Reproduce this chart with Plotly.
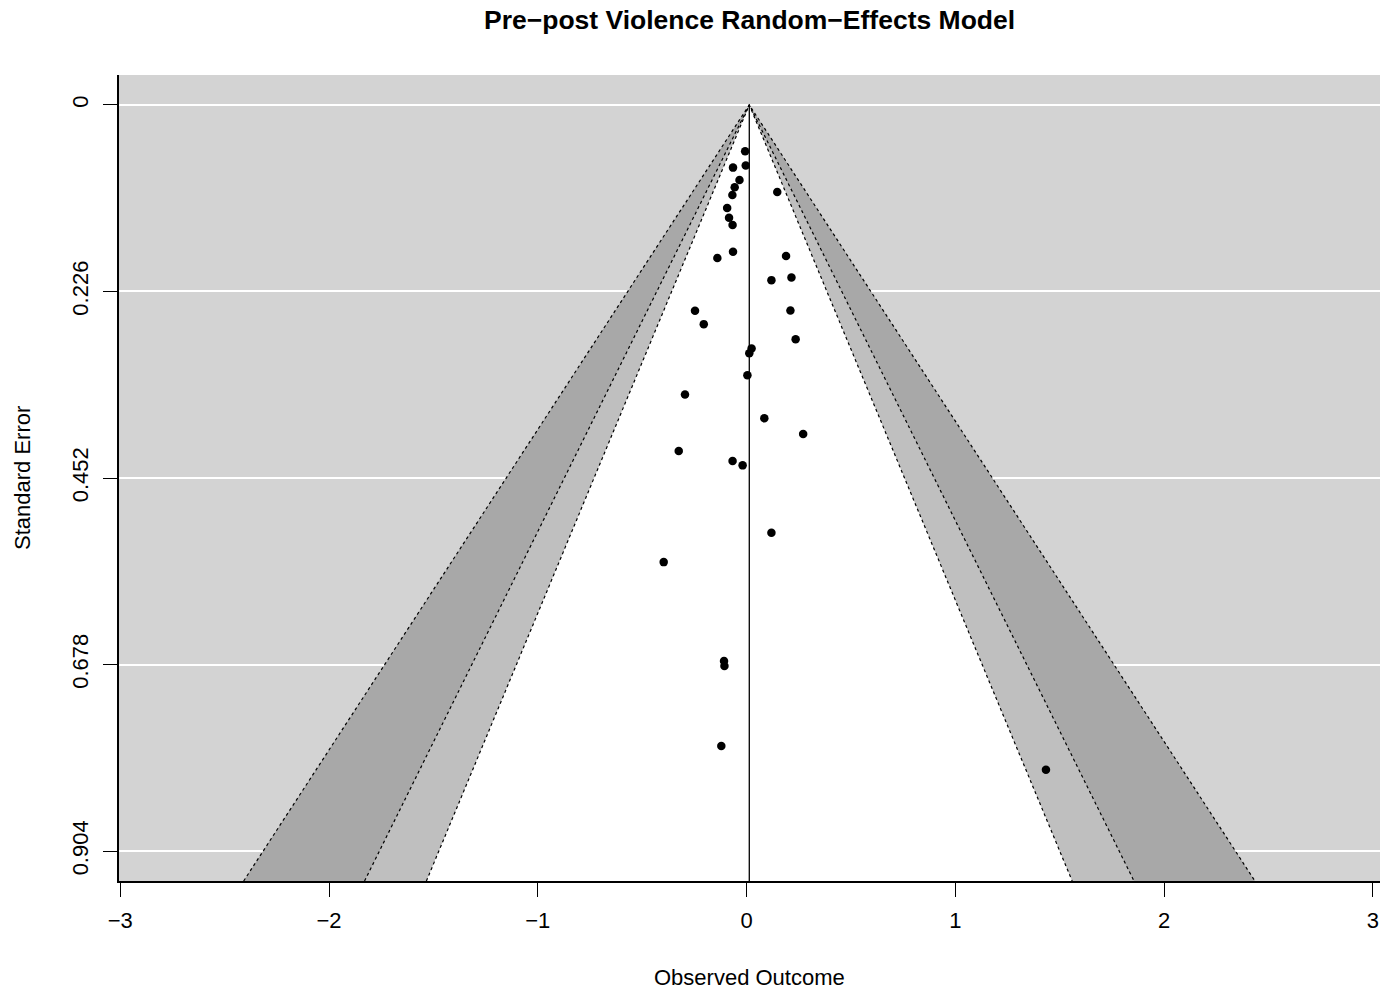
import numpy as np
import plotly.graph_objects as go

# Study estimates (observed outcome) and their standard errors
observed = [-0.007, -0.004, -0.065, -0.034, -0.057, -0.068, 0.147, -0.093, -0.084,
            -0.067, -0.065, -0.140, 0.189, 0.215, 0.119, -0.247, 0.210, -0.205,
            0.235, 0.024, 0.013, 0.004, -0.295, 0.085, 0.271, -0.325, -0.067,
            -0.019, 0.119, -0.397, -0.108, -0.106, -0.121, 1.434]
std_error = [0.0562, 0.0735, 0.0760, 0.0910, 0.0998, 0.1092, 0.1055, 0.1249, 0.1366,
             0.1456, 0.1778, 0.1856, 0.1832, 0.2090, 0.2123, 0.2494, 0.2490, 0.2656,
             0.2838, 0.2951, 0.3008, 0.3275, 0.3509, 0.3797, 0.3986, 0.4192, 0.4313,
             0.4367, 0.5183, 0.5539, 0.6736, 0.6797, 0.7767, 0.8054]

# Pooled random-effects estimate (funnel centre)
ref_estimate = 0.013

# Significance contours (two-sided z critical values for p = .10, .05, .01)
contour_z = [2.576, 1.96, 1.645]
contour_fill = ["#A8A8A8", "#BFBFBF", "#FFFFFF"]

# Axis settings
se_ticks = [0, 0.226, 0.452, 0.678, 0.904]
se_tick_labels = ["0", "0.226", "0.452", "0.678", "0.904"]
x_ticks = [-3, -2, -1, 0, 1, 2, 3]
x_range = [-3.006, 3.034]
y_range = [0.9402, -0.0362]

title_text = "Pre\u2212post Violence Random\u2212Effects Model"
x_title = "Observed Outcome"
y_title = "Standard Error"

font_family = "Liberation Sans, Arial, Helvetica, sans-serif"
se_bottom = y_range[0]

fig = go.Figure()

# Filled contour regions, widest first
for z, col in zip(contour_z, contour_fill):
    half = z * se_bottom
    fig.add_trace(go.Scatter(
        x=[ref_estimate - half, ref_estimate, ref_estimate + half, ref_estimate - half],
        y=[se_bottom, 0, se_bottom, se_bottom],
        mode="lines", fill="toself", fillcolor=col,
        line=dict(width=0), hoverinfo="skip", showlegend=False))

# Dotted contour borders
for z in contour_z:
    half = z * se_bottom
    fig.add_trace(go.Scatter(
        x=[ref_estimate - half, ref_estimate, ref_estimate + half],
        y=[se_bottom, 0, se_bottom],
        mode="lines", line=dict(color="black", width=1.2, dash="dot"),
        hoverinfo="skip", showlegend=False))

# Vertical reference line
fig.add_trace(go.Scatter(
    x=[ref_estimate, ref_estimate], y=[0, se_bottom],
    mode="lines", line=dict(color="black", width=1.3),
    hoverinfo="skip", showlegend=False))

# Study points
fig.add_trace(go.Scatter(
    x=observed, y=std_error, mode="markers",
    marker=dict(color="black", size=8.5, line=dict(width=0)),
    showlegend=False))

fig.update_layout(
    width=1386, height=992, autosize=False,
    margin=dict(l=119, r=6, t=75, b=111),
    paper_bgcolor="white", plot_bgcolor="#D3D3D3",
    font=dict(family=font_family, size=22, color="black"),
    showlegend=False,
)

fig.update_xaxes(
    range=x_range, tickmode="array", tickvals=x_ticks,
    showgrid=False, zeroline=False,
    showline=True, linecolor="black", linewidth=1.5,
    ticks="outside", ticklen=14, tickwidth=1.3, tickcolor="black",
    ticklabelstandoff=5,
    tickfont=dict(size=22),
)
fig.update_yaxes(
    range=y_range, tickmode="array", tickvals=se_ticks, ticktext=se_tick_labels,
    showgrid=True, gridcolor="white", gridwidth=1.5, zeroline=False,
    showline=True, linecolor="black", linewidth=1.5,
    ticks="outside", ticklen=14, tickwidth=1.3, tickcolor="black",
    tickangle=-90, ticklabelstandoff=6,
    tickfont=dict(size=22),
)

fig.add_annotation(text="<b>" + title_text + "</b>", xref="paper", yref="paper",
                   x=0.5, y=1, yshift=55, showarrow=False,
                   xanchor="center", yanchor="middle", font=dict(size=26.5))
fig.add_annotation(text=x_title, xref="paper", yref="paper",
                   x=0.5, y=0, yshift=-96, showarrow=False,
                   xanchor="center", yanchor="middle", font=dict(size=22))
fig.add_annotation(text=y_title, xref="paper", yref="paper",
                   x=0, y=0.5, xshift=-97, showarrow=False, textangle=-90,
                   xanchor="center", yanchor="middle", font=dict(size=22))

fig.write_html("out.html")
